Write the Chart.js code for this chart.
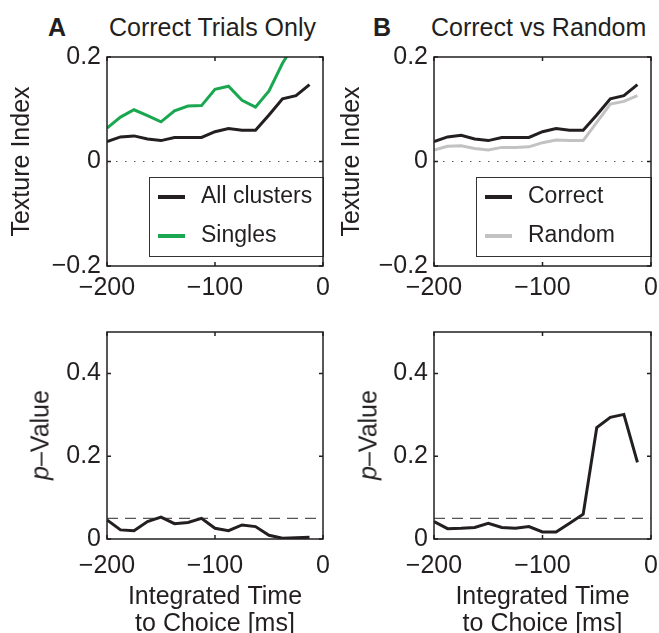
<!DOCTYPE html>
<html>
<head>
<meta charset="utf-8">
<script src="https://cdn.jsdelivr.net/npm/chart.js@4.4.1/dist/chart.umd.min.js"></script>
<style>
  body { margin: 0; background: #fff; overflow: hidden; }
  #wrap { position: relative; width: 659px; height: 633px; font-family: "Liberation Sans", Arial, Helvetica, sans-serif; color: #231f20; }
  .box { position: absolute; }
  .lbl { position: absolute; font-size: 25px; line-height: 1; white-space: nowrap; }
  .ylab { position: absolute; font-size: 25px; line-height: 1; white-space: nowrap; transform: translate(-50%, -50%) rotate(-90deg); }
</style>
</head>
<body>
<div id="wrap">
  <div class="lbl" style="left:48px; top:15px; font-weight:bold">A</div>
  <div class="lbl" style="left:109px; top:15px">Correct Trials Only</div>
  <div class="lbl" style="left:373px; top:15px; font-weight:bold">B</div>
  <div class="lbl" style="left:431px; top:15px">Correct vs Random</div>

  <div class="box" style="left:0; top:45px"><canvas id="topA" width="330" height="265"></canvas></div>
  <div class="box" style="left:330px; top:45px"><canvas id="topB" width="329" height="265"></canvas></div>
  <div class="box" style="left:0; top:310px"><canvas id="botA" width="330" height="323"></canvas></div>
  <div class="box" style="left:330px; top:310px"><canvas id="botB" width="329" height="323"></canvas></div>

  <div class="ylab" style="left:40px; top:435px"><i>p</i>–Value</div>
  <div class="ylab" style="left:368px; top:435px"><i>p</i>–Value</div>
</div>
<script>
// time bins (ms before choice)
const times = [-200, -187.5, -175, -162.5, -150, -137.5, -125, -112.5, -100, -87.5, -75, -62.5, -50, -37.5, -25, -12.5];

// texture index, panel A
const allClusters = [0.038, 0.047, 0.049, 0.043, 0.040, 0.046, 0.046, 0.046, 0.057, 0.063, 0.060, 0.060, 0.089, 0.120, 0.126, 0.147];
const singles     = [0.064, 0.085, 0.099, 0.088, 0.076, 0.097, 0.106, 0.107, 0.138, 0.144, 0.117, 0.104, 0.135, 0.188, 0.23, 0.26];

// texture index, panel B
const correct = [0.038, 0.047, 0.050, 0.043, 0.040, 0.046, 0.046, 0.046, 0.057, 0.063, 0.060, 0.060, 0.089, 0.120, 0.126, 0.147];
const random  = [0.022, 0.029, 0.030, 0.025, 0.022, 0.027, 0.027, 0.028, 0.036, 0.041, 0.040, 0.040, 0.075, 0.110, 0.115, 0.126];

// p-values
const pCorrectOnly = [0.046, 0.022, 0.020, 0.042, 0.053, 0.037, 0.040, 0.050, 0.026, 0.020, 0.034, 0.030, 0.009, 0.002, 0.003, 0.004];
const pVsRandom    = [0.042, 0.025, 0.026, 0.028, 0.038, 0.028, 0.026, 0.030, 0.017, 0.017, 0.038, 0.060, 0.269, 0.294, 0.301, 0.185];
const pThreshold = 0.05;

// tick labels
const xTicks = [-200, -100, 0];
const yTicksTop = [-0.2, 0, 0.2];
const yTicksBottom = [0, 0.2, 0.4];

const FONT = '"Liberation Sans", Arial, Helvetica, sans-serif';
const INK = '#231f20';
const GREEN = '#1aa750';
const GREY = '#c2c2c2';

const minus = v => String(v).replace('-', '\u2212');
const pts = vals => vals.map((v, i) => ({ x: times[i], y: v }));
const flat = y => [{ x: -200, y: y }, { x: 0, y: y }];

function line(label, vals, color, order) {
  return { label, data: pts(vals), borderColor: color, borderWidth: 3, clip: 0, order: order || 0 };
}
function refLine(y, dash, color) {
  return { ref: true, data: flat(y), borderColor: color, borderWidth: 1.2, borderDash: dash, order: 5 };
}

// boxed axes with inward ticks on all four sides
const frame = {
  id: 'frame',
  afterDatasetsDraw(chart) {
    const { ctx, chartArea: a, scales: { x, y } } = chart;
    ctx.save();
    ctx.strokeStyle = INK;
    ctx.lineWidth = 1.5;
    ctx.strokeRect(a.left, a.top, a.right - a.left, a.bottom - a.top);
    ctx.beginPath();
    x.ticks.forEach(t => {
      const px = x.getPixelForValue(t.value);
      ctx.moveTo(px, a.bottom); ctx.lineTo(px, a.bottom - 4);
      ctx.moveTo(px, a.top); ctx.lineTo(px, a.top + 4);
    });
    y.ticks.forEach(t => {
      const py = y.getPixelForValue(t.value);
      ctx.moveTo(a.left, py); ctx.lineTo(a.left + 4, py);
      ctx.moveTo(a.right, py); ctx.lineTo(a.right - 4, py);
    });
    ctx.stroke();
    ctx.restore();
  }
};

// legend drawn in a box inside the plot
const boxLegend = {
  id: 'boxLegend',
  afterDatasetsDraw(chart, args, opts) {
    if (!opts || !opts.show) return;
    const { ctx, chartArea: a } = chart;
    const x0 = a.left + opts.dx, y0 = a.top + opts.dy;
    const w = a.right - x0;
    ctx.save();
    ctx.fillStyle = '#fff';
    ctx.fillRect(x0, y0, w, opts.h);
    ctx.strokeStyle = '#333';
    ctx.lineWidth = 1;
    ctx.strokeRect(x0 + 0.5, y0 + 0.5, w, opts.h);
    let row = 0;
    chart.data.datasets.forEach(ds => {
      if (ds.ref) return;
      const cy = y0 + opts.row0 + row * opts.rowGap;
      ctx.strokeStyle = ds.borderColor;
      ctx.lineWidth = 4;
      ctx.beginPath();
      ctx.moveTo(x0 + 9, cy);
      ctx.lineTo(x0 + 36, cy);
      ctx.stroke();
      ctx.fillStyle = INK;
      ctx.font = '23px ' + FONT;
      ctx.textBaseline = 'middle';
      ctx.fillText(ds.label, x0 + 52, cy);
      row++;
    });
    ctx.restore();
  }
};

// keep the plot box exactly where the layout padding puts it
function noPad(s) {
  s.paddingTop = 0; s.paddingBottom = 0; s.paddingLeft = 0; s.paddingRight = 0;
}

function panel(id, datasets, o) {
  new Chart(document.getElementById(id), {
    type: 'line',
    data: { datasets },
    options: {
      responsive: false,
      animation: false,
      layout: { padding: o.pad },
      elements: { point: { radius: 0 }, line: { tension: 0 } },
      plugins: {
        legend: { display: false },
        tooltip: { enabled: false },
        boxLegend: o.legend || { show: false }
      },
      scales: {
        x: {
          type: 'linear', min: -200, max: 0,
          afterBuildTicks: s => { s.ticks = xTicks.map(v => ({ value: v })); },
          afterFit: s => { s.height = o.xH; noPad(s); },
          grid: { display: false, drawTicks: false },
          border: { display: false },
          ticks: { color: INK, font: { family: FONT, size: 25 }, padding: o.xPad, maxRotation: 0, callback: v => minus(v) },
          title: o.xTitle ? {
            display: true, text: o.xTitle, color: INK,
            font: { family: FONT, size: 25, lineHeight: 1.08 }, padding: { top: 0, bottom: -5 }
          } : { display: false }
        },
        y: {
          min: o.yMin, max: o.yMax,
          afterBuildTicks: s => { s.ticks = o.yTicks.map(v => ({ value: v })); },
          afterFit: s => { s.width = o.yW; noPad(s); },
          grid: { display: false, drawTicks: false },
          border: { display: false },
          ticks: { color: INK, font: { family: FONT, size: 25 }, padding: 6, callback: v => minus(v) },
          title: o.yTitle ? {
            display: true, text: o.yTitle, color: INK,
            font: { family: FONT, size: 25, lineHeight: 1.08 }, padding: { top: 9, bottom: 0 }
          } : { display: false }
        }
      }
    },
    plugins: [boxLegend, frame]
  });
}

const legendBox = { show: true, dx: 42, dy: 120, h: 79, row0: 20, rowGap: 39 };

panel('topA', [
  line('All clusters', allClusters, INK, 0),
  line('Singles', singles, GREEN, 1),
  refLine(0, [1.5, 7.5], '#555')
], { pad: { top: 12, left: 0, right: 7, bottom: 0 }, xH: 44, xPad: 7, yW: 107,
     yMin: -0.2, yMax: 0.2, yTicks: yTicksTop, yTitle: 'Texture Index', legend: legendBox });

panel('topB', [
  line('Correct', correct, INK, 0),
  line('Random', random, GREY, 1),
  refLine(0, [1.5, 7.5], '#555')
], { pad: { top: 12, left: 0, right: 8, bottom: 0 }, xH: 44, xPad: 7, yW: 104,
     yMin: -0.2, yMax: 0.2, yTicks: yTicksTop, yTitle: 'Texture Index', legend: legendBox });

panel('botA', [
  line('p', pCorrectOnly, INK, 0),
  refLine(pThreshold, [11, 7], '#555')
], { pad: { top: 22, left: 0, right: 7, bottom: 0 }, xH: 94, xPad: 12, yW: 107,
     yMin: 0, yMax: 0.5, yTicks: yTicksBottom, xTitle: ['Integrated Time', 'to Choice [ms]'] });

panel('botB', [
  line('p', pVsRandom, INK, 0),
  refLine(pThreshold, [11, 7], '#555')
], { pad: { top: 22, left: 0, right: 8, bottom: 0 }, xH: 94, xPad: 12, yW: 104,
     yMin: 0, yMax: 0.5, yTicks: yTicksBottom, xTitle: ['Integrated Time', 'to Choice [ms]'] });
</script>
</body>
</html>
